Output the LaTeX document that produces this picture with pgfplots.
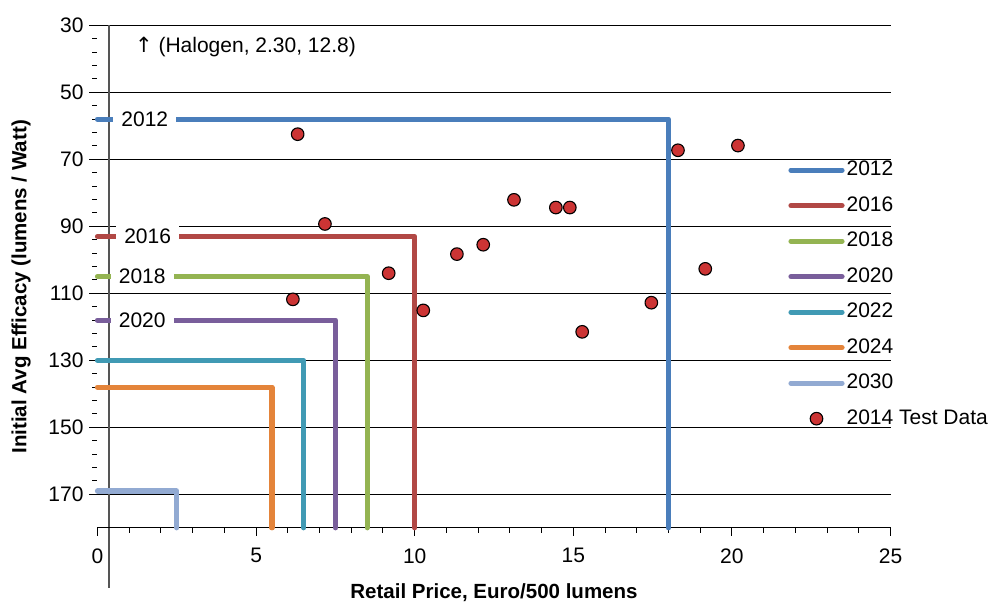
\documentclass[border=0pt]{standalone}
\usepackage{fontspec}
\setmainfont{Liberation Sans}
\newfontfamily\arrowfont{DejaVu Sans}
\usepackage{pgfplots}
\pgfplotsset{compat=1.18}
\pgfplotsset{dotlegend/.style={legend image code/.code={\draw[mark repeat=2,mark phase=2,##1] plot coordinates {(0pt,0pt) (25.5pt,0pt) (51pt,0pt)};}}}
\definecolor{c2012}{RGB}{74,126,187}
\definecolor{c2016}{RGB}{177,72,69}
\definecolor{c2018}{RGB}{148,180,82}
\definecolor{c2020}{RGB}{121,94,155}
\definecolor{c2022}{RGB}{64,154,180}
\definecolor{c2024}{RGB}{228,132,58}
\definecolor{c2030}{RGB}{146,170,210}
\definecolor{cpt}{RGB}{204,52,52}
\definecolor{axgray}{RGB}{85,85,85}
\newcommand\fs{\fontsize{21}{25}\selectfont}
\newcommand\fb{\fontsize{20.5}{24}\selectfont\bfseries}
\begin{document}
\begin{tikzpicture}
\begin{axis}[
  at={(0,0)}, anchor=south west,
  scale only axis, width=793pt, height=502.5pt,
  xmin=0, xmax=25, ymin=30, ymax=180, y dir=reverse,
  clip=false,
  axis line style={draw=none},
  xtick={0,5,...,25}, ytick={30,50,...,170},
  minor x tick num=4, minor y tick num=4,
  xtick pos=bottom, ytick pos=left,
  tick align=outside,
  major tick length=8pt, minor tick length=5pt,
  every tick/.style={black, line width=1pt},
  ymajorgrids, major grid style={black, line width=0.9pt},
  ticklabel style={font=\fs},
  /pgf/number format/assume math mode=true,
  xticklabel style={yshift=-9pt},
  yticklabel style={xshift=-2.5pt},
  xlabel={Retail Price, Euro/500 lumens},
  ylabel={Initial Avg Efficacy (lumens / Watt)},
  label style={font=\fb},
  xlabel style={at={(axis description cs:0.5,-0.14)}, anchor=base},
  ylabel style={at={(axis description cs:-0.0898,0.4795)}, anchor=base},
  legend style={at={(axis description cs:0.871,0.731)}, anchor=north west,
    draw=none, fill=none, font=\fs, inner sep=0pt, row sep=16.5pt, column sep=2pt,
    nodes={inner sep=0pt, text height=15pt, text depth=4pt}},
  legend cell align=left,
  legend image code/.code={\draw[#1,line cap=round] (0pt,0pt) -- (51pt,0pt);},
  every axis plot/.append style={line width=5.2pt, line join=round, line cap=round},
]
\draw[axgray, line width=1.5pt] (axis cs:0.36,30) -- (axis cs:0.36,198);
\draw[black, line width=1pt] (axis cs:0,180) -- (axis cs:25,180);
\addplot[c2012] coordinates {(0,58) (18,58) (18,180)};
\addlegendentry{2012}
\addplot[c2016] coordinates {(0,93) (10,93) (10,180)};
\addlegendentry{2016}
\addplot[c2018] coordinates {(0,105) (8.5,105) (8.5,180)};
\addlegendentry{2018}
\addplot[c2020] coordinates {(0,118) (7.5,118) (7.5,180)};
\addlegendentry{2020}
\addplot[c2022] coordinates {(0,130) (6.5,130) (6.5,180)};
\addlegendentry{2022}
\addplot[c2024] coordinates {(0,138) (5.5,138) (5.5,180)};
\addlegendentry{2024}
\addplot[c2030] coordinates {(0,169) (2.5,169) (2.5,180)};
\addlegendentry{2030}
\addplot[only marks, mark=*, mark size=6.3pt, line width=1pt,
  mark options={fill=cpt, draw=black, line width=1.1pt}, dotlegend]
  coordinates {
  (6.31,62.5) (7.17,89.3) (11.33,98.3) (9.18,104.0) (6.16,111.8)
  (10.27,115.1) (13.13,82.1) (14.45,84.4) (14.89,84.4) (12.16,95.5)
  (15.28,121.5) (18.30,67.3) (20.19,65.9) (19.16,102.7) (17.46,112.8)};
\addlegendentry{2014 Test Data}
\node[fill=white, inner xsep=8pt, inner ysep=9pt, font=\fs] at (axis cs:1.49,58) {2012};
\node[fill=white, inner xsep=8pt, inner ysep=9pt, font=\fs] at (axis cs:1.58,93) {2016};
\node[fill=white, inner xsep=8pt, inner ysep=9pt, font=\fs] at (axis cs:1.41,105) {2018};
\node[fill=white, inner xsep=8pt, inner ysep=9pt, font=\fs] at (axis cs:1.41,118) {2020};
\node[anchor=base west, inner sep=0pt, font=\fs] at (axis cs:1.18,38) {{\arrowfont ↑} (Halogen, 2.30, 12.8)};
\end{axis}
\pgfresetboundingbox
\path[use as bounding box] (-97.5pt,-75.2pt) rectangle (894.5pt,527.8pt);
\end{tikzpicture}
\end{document}
